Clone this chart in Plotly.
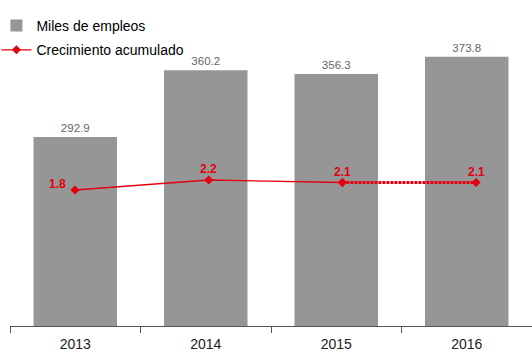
import plotly.graph_objects as go

years = ["2013", "2014", "2015", "2016"]
empleos = [292.9, 360.2, 356.3, 373.8]
crecimiento = [1.8, 2.2, 2.1, 2.1]

BAR = "#969696"
RED = "#e3000f"

fig = go.Figure()
fig.add_trace(go.Bar(
    x=years, y=empleos, name="Miles de empleos",
    marker=dict(color=BAR, line=dict(width=0)),
    text=[f"{v:.1f}" for v in empleos], textposition="outside",
    textfont=dict(color="#666666", size=11.5, family="Liberation Sans, Arial"),
    cliponaxis=False, legendgroup="a",
))
# solid part (2013-2015)
fig.add_trace(go.Scatter(
    x=years[:3], y=crecimiento[:3], name="Crecimiento acumulado",
    mode="lines+markers", line=dict(color=RED, width=1.3),
    marker=dict(symbol="diamond", size=7, color=RED),
    xaxis="x2", yaxis="y2", legendgroup="b",
))
# dotted part (2015-2016)
fig.add_trace(go.Scatter(
    x=years[2:], y=crecimiento[2:], showlegend=False,
    mode="lines+markers", line=dict(color=RED, width=3, dash="3px,1px"),
    marker=dict(symbol="diamond", size=7, color=RED),
    xaxis="x2", yaxis="y2", legendgroup="b",
))

label_shift = [(-17, 6), (0, 11), (0, 11), (0, 11)]
for i, (v, (dx, dy)) in enumerate(zip(crecimiento, label_shift)):
    fig.add_annotation(
        x=i, y=v, xref="x2", yref="y2", text=f"<b>{v:.1f}</b>",
        showarrow=False, xshift=dx, yshift=dy,
        font=dict(color=RED, size=12, family="Liberation Sans, Arial"),
    )

fig.update_layout(
    width=532, height=353,
    margin=dict(l=10, r=0, t=10, b=27, autoexpand=False),
    plot_bgcolor="white", paper_bgcolor="white",
    font=dict(family="Liberation Sans, Arial", color="#000000"),
    bargap=0.36,
    showlegend=True,
    legend=dict(x=-0.026, y=1.0, xanchor="left", yanchor="top",
                font=dict(size=14, color="#000000"),
                traceorder="grouped", tracegroupgap=3,
                bgcolor="rgba(0,0,0,0)"),
    xaxis=dict(type="category", range=[-0.5, 3.5], showgrid=False,
               showline=True, linecolor="#555555", linewidth=1,
               ticks="outside", tickson="boundaries", ticklen=6,
               tickcolor="#555555", ticklabelstandoff=5,
               tickfont=dict(size=14, color="#222222")),
    xaxis2=dict(type="category", overlaying="x", range=[-0.486, 3.418],
                visible=False),
    yaxis=dict(range=[102, 421], visible=False, showgrid=False),
    yaxis2=dict(range=[-3.64, 9.0], overlaying="y", visible=False,
                showgrid=False),
)

fig.write_html("out.html")
